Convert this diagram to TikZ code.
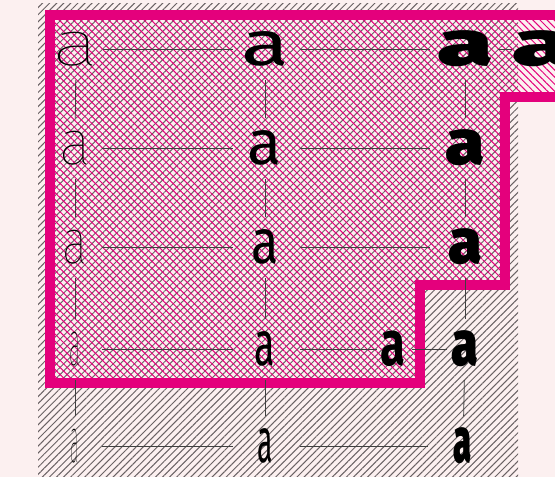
\documentclass[tikz,border=0pt]{standalone}
\usepackage{fontspec}
\usepackage{graphicx}
\usetikzlibrary{patterns.meta}
\newfontfamily\regfont{Fira Sans}
\IfFontExistsTF{Fira Sans Thin}{\newfontfamily\hairfont{Fira Sans Thin}}{%
  \IfFontExistsTF{Fira Sans ExtraLight}{\newfontfamily\hairfont{Fira Sans ExtraLight}}{%
    \IfFontExistsTF{Fira Sans Light}{\newfontfamily\hairfont{Fira Sans Light}}{%
      \newfontfamily\hairfont{Fira Sans}}}}
\IfFontExistsTF{Fira Sans Black}{\newfontfamily\heavyfont{Fira Sans Black}}{%
  \IfFontExistsTF{Fira Sans ExtraBold}{\newfontfamily\heavyfont{Fira Sans ExtraBold}}{%
    \newfontfamily\heavyfont{Fira Sans}[UprightFont=*, FakeBold=3]}}
\definecolor{mymagenta}{HTML}{E4007C}
\definecolor{mybg}{HTML}{FCF0F0}
\definecolor{myhatch}{HTML}{6A6264}
\newcommand{\glyph}[2]{\scalebox{#2}[1]{#1a}}

\begin{document}
\begin{tikzpicture}[
    x=1pt, y=-1pt,
    glyph/.style={inner sep=0pt, font=\fontsize{63}{63}\selectfont, text=black},
    link/.style={draw=black!75, line width=0.8pt},
    across/.style={link, shorten <=27pt, shorten >=32pt},
    further/.style={link, shorten <=35pt, shorten >=35pt},
    down/.style={link, shorten <=31pt, shorten >=30pt}
  ]
  % Background and frame
  \fill[mybg] (0,0) rectangle (555,477);
  \useasboundingbox (0,0) rectangle (555,477);
  \clip (0,0) rectangle (555,477);
  \fill[pattern={Lines[angle=45, distance=5pt, line width=1pt]}, pattern color=myhatch]
    (38,3) rectangle (518,480);
  % Covered region
  \fill[pattern={Lines[angle=-45, distance=5pt, line width=1pt]}, pattern color=mymagenta]
    (50,15) -- (570,15) -- (570,97) -- (505,97) -- (505,285) -- (420,285)
    -- (420,383) -- (50,383) -- cycle;
  \draw[mymagenta, line width=10pt, miter limit=10]
    (570,15) -- (50,15) -- (50,383) -- (420,383) -- (420,285) -- (505,285)
    -- (505,97) -- (570,97);
  % Glyphs, row by row
  \node[glyph] (hair1)  at (76,49)  {\glyph{\hairfont}{1.4}};
  \node[glyph] (reg1)   at (265,49) {\glyph{\regfont}{1.4}};
  \node[glyph] (heavy1) at (465,49) {\glyph{\heavyfont}{1.6}};
  \node[glyph] (extra1) at (542,49) {\glyph{\heavyfont}{1.7}};
  \node[glyph] (hair2)  at (75,148)  {\glyph{\hairfont}{0.95}};
  \node[glyph] (reg2)   at (265,148) {\glyph{\regfont}{1.0}};
  \node[glyph] (heavy2) at (465,148) {\glyph{\heavyfont}{1.13}};
  \node[glyph] (hair3)  at (75,247)  {\glyph{\hairfont}{0.75}};
  \node[glyph] (reg3)   at (265,247) {\glyph{\regfont}{0.8}};
  \node[glyph] (heavy3) at (465,247) {\glyph{\heavyfont}{0.97}};
  \node[glyph] (hair4)  at (75,349)  {\glyph{\hairfont}{0.33}};
  \node[glyph] (reg4)   at (265,349) {\glyph{\regfont}{0.6}};
  \node[glyph] (bold4)  at (393,349) {\glyph{\regfont\bfseries}{0.72}};
  \node[glyph] (heavy4) at (465,349) {\glyph{\heavyfont}{0.77}};
  \node[glyph] (hair5)  at (75,446)  {\glyph{\hairfont}{0.25}};
  \node[glyph] (reg5)   at (265,446) {\glyph{\regfont}{0.45}};
  \node[glyph] (heavy5) at (463,446) {\glyph{\heavyfont}{0.52}};
  % Rows
  \foreach \r in {1,...,5}{
    \draw[across] (hair\r.center) -- (reg\r.center);
  }
  \foreach \r in {1,2,3,5}{
    \draw[further] (reg\r.center) -- (heavy\r.center);
  }
  \draw[link, shorten <=35pt, shorten >=16pt] (reg4.center) -- (bold4.center);
  \draw[link, shorten <=19pt, shorten >=18pt] (bold4.center) -- (heavy4.center);
  \draw[link, shorten <=33pt, shorten >=30pt] (heavy1.center) -- (extra1.center);
  % Columns
  \foreach \c in {hair,reg,heavy}{
    \foreach \r/\s in {1/2,2/3,3/4,4/5}{
      \draw[down] (\c\r.center) -- (\c\s.center);
    }
  }
\end{tikzpicture}
\end{document}
